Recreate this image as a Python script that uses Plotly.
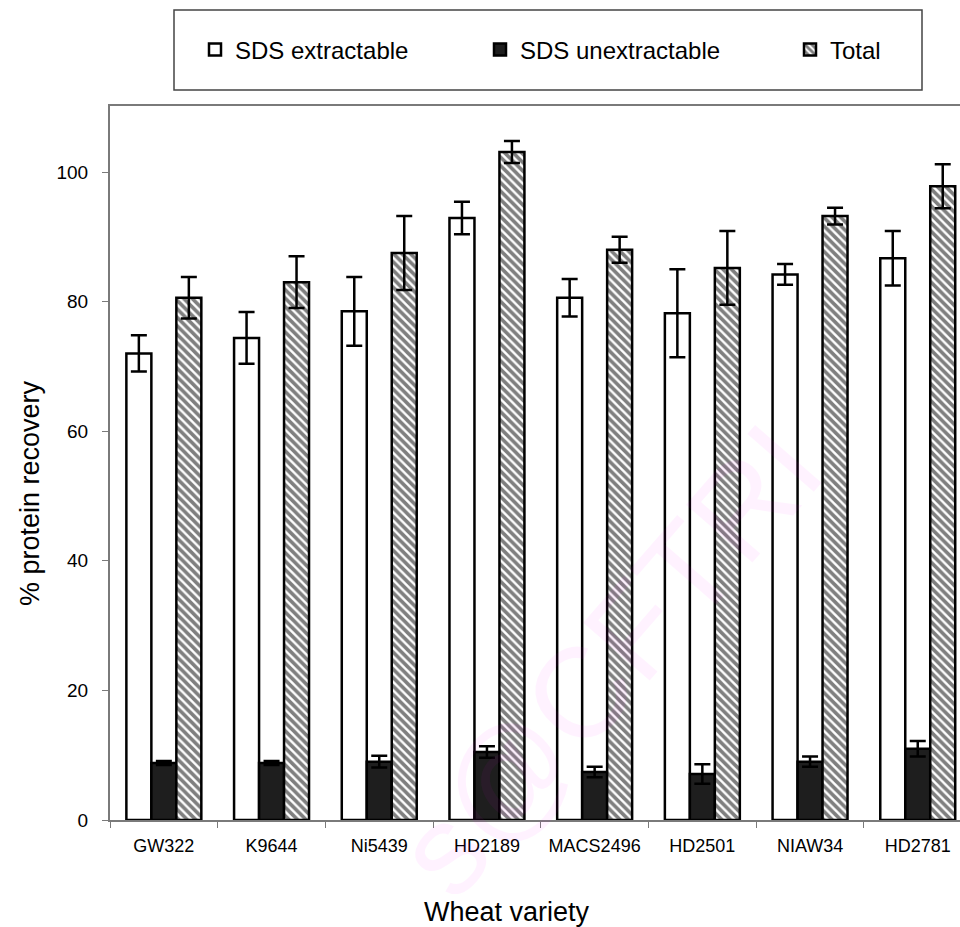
import plotly.graph_objects as go

# Wheat varieties and protein recovery (%), mean ± error
varieties = ["GW322", "K9644", "Ni5439", "HD2189", "MACS2496", "HD2501", "NIAW34", "HD2781"]
tick_text = ["GW322", "K9644", "Ni5439", "HD2189", "MACS2496", "HD2501", "NIAW34", "HD2781"]

sds_extractable = [72.0, 74.4, 78.5, 92.9, 80.6, 78.2, 84.2, 86.7]
sds_extractable_err = [2.8, 4.0, 5.3, 2.5, 2.9, 6.8, 1.6, 4.2]

sds_unextractable = [8.8, 8.8, 9.0, 10.5, 7.4, 7.1, 9.0, 11.0]
sds_unextractable_err = [0.3, 0.3, 0.9, 0.9, 0.8, 1.5, 0.8, 1.2]

total = [80.6, 83.0, 87.5, 103.1, 88.0, 85.2, 93.2, 97.8]
total_err = [3.2, 4.0, 5.7, 1.7, 2.0, 5.7, 1.3, 3.4]

FONT = "Arial, Liberation Sans, sans-serif"
W, H = 960, 927
L, R, T, B = 110, 0, 106, 107
plot_w = W - L - R
plot_h = H - T - B


def err(vals):
    return dict(type="data", array=vals, visible=True, color="black",
                thickness=2.5, width=8)


fig = go.Figure()
fig.add_trace(go.Bar(
    x=varieties, y=sds_extractable, name="SDS extractable",
    marker=dict(color="white", line=dict(color="black", width=2.5)),
    error_y=err(sds_extractable_err), legendwidth=240,
))
fig.add_trace(go.Bar(
    x=varieties, y=sds_unextractable, name="SDS unextractable",
    marker=dict(color="#1e1e1e", line=dict(color="black", width=2.5)),
    error_y=err(sds_unextractable_err), legendwidth=265,
))
fig.add_trace(go.Bar(
    x=varieties, y=total, name="Total",
    marker=dict(color="white", line=dict(color="black", width=2.5),
                pattern=dict(shape="\\", fgcolor="black", bgcolor="white",
                             size=6, solidity=0.6)),
    error_y=err(total_err),
))

cat_px = 107.7
x_hi = -0.5 + plot_w / cat_px
y_hi = plot_h / 6.48


def py(y_px):
    # convert a pixel row into paper coordinates
    return (H - B - y_px) / plot_h


def px(x_px):
    return (x_px - L) / plot_w


fig.update_layout(
    width=W, height=H,
    margin=dict(l=L, r=R, t=T, b=B, pad=0),
    paper_bgcolor="white", plot_bgcolor="white",
    barmode="group", bargap=0.304, bargroupgap=0,
    font=dict(family=FONT, color="black"),
    showlegend=True,
    legend=dict(
        orientation="h", xref="container", yref="container",
        x=195 / W, y=1 - 50 / H, xanchor="left", yanchor="middle",
        font=dict(family=FONT, size=24, color="black"),
        bgcolor="rgba(0,0,0,0)", borderwidth=0, itemclick=False,
    ),
    xaxis=dict(
        range=[-0.5, x_hi], showgrid=False, zeroline=False,
        showline=True, linecolor="#7a7a7a", linewidth=2, mirror=True,
        ticks="outside", tickson="boundaries", ticklen=6, tickcolor="#7a7a7a",
        tickwidth=1, tickvals=varieties, ticktext=tick_text,
        tickfont=dict(family=FONT, size=18, color="black"),
        ticklabelstandoff=8,
    ),
    yaxis=dict(
        range=[0, y_hi], showgrid=False, zeroline=False,
        showline=True, linecolor="#7a7a7a", linewidth=2,
        ticks="outside", ticklen=6, tickcolor="#7a7a7a", tickwidth=1,
        tickvals=[0, 20, 40, 60, 80, 100],
        tickfont=dict(family=FONT, size=19, color="black"),
        ticklabelstandoff=10,
    ),
    shapes=[
        dict(type="rect", xref="paper", yref="paper",
             x0=px(174), x1=px(922), y0=py(90), y1=py(10),
             line=dict(color="#444444", width=1.5), fillcolor="rgba(0,0,0,0)"),
    ],
    annotations=[
        dict(text="Wheat variety", xref="paper", yref="paper",
             x=px(507), y=py(912), xanchor="center", yanchor="middle",
             showarrow=False,
             font=dict(family=FONT, size=27, color="black")),
        dict(text="% protein recovery", xref="paper", yref="paper",
             x=px(30), y=py(493), xanchor="center", yanchor="middle",
             showarrow=False, textangle=-90,
             font=dict(family=FONT, size=27, color="black")),
        dict(text="s@CFTRI", xref="paper", yref="paper",
             x=px(608), y=py(660), xanchor="center", yanchor="middle",
             showarrow=False, textangle=-49,
             font=dict(family=FONT, size=128, color="rgba(255,0,255,0.05)")),
    ],
)

fig.write_html("out.html")
